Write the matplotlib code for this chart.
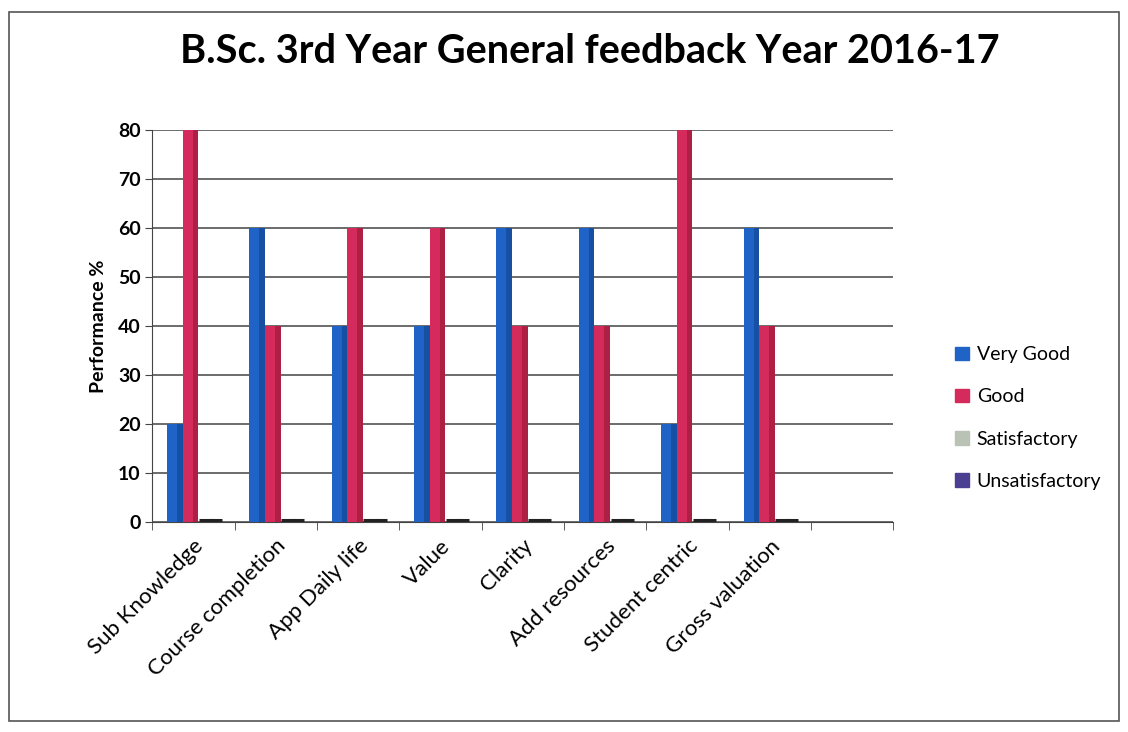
import matplotlib.pyplot as plt
import numpy as np
from matplotlib.patches import Rectangle, Patch

plt.rcParams['font.family'] = ['Lato', 'DejaVu Sans']

categories = ['Sub Knowledge', 'Course completion', 'App Daily life', 'Value',
              'Clarity', 'Add resources', 'Student centric', 'Gross valuation', '']
very_good = [20, 60, 40, 40, 60, 60, 20, 60, 0]
good = [80, 40, 60, 60, 40, 40, 80, 40, 0]
satisfactory = [0, 0, 0, 0, 0, 0, 0, 0, 0]
unsatisfactory = [0, 0, 0, 0, 0, 0, 0, 0, 0]
n_show = 8  # last slot is empty

fig = plt.figure(figsize=(11.28, 7.32), dpi=100)
ax = fig.add_axes([0.135, 0.287, 0.657, 0.535])

# outer frame of the chart
fig.patches.append(Rectangle((0.008, 0.015), 0.984, 0.968, transform=fig.transFigure,
                             fill=False, edgecolor='#555555', linewidth=1.2))

x = np.arange(len(categories))
w = 0.19
series = [
    (very_good, -0.225, '#1f63c6', '#123f86'),
    (good, -0.035, '#d42a5c', '#8e1630'),
]
for vals, off, col, dark in series:
    v = np.array(vals[:n_show])
    ax.bar(x[:n_show] + off, v, width=w, color=col, zorder=3)
    # darker right side for a 3D look
    ax.bar(x[:n_show] + off + w * 0.32, v, width=w * 0.36, color=dark, alpha=0.55, zorder=3)

# zero-height series show as flat dashes
ax.bar(x[:n_show] + 0.16, satisfactory[:n_show], width=w, bottom=0.4, color='#b9c2b4',
       edgecolor='#222222', linewidth=2.2, zorder=3)
ax.bar(x[:n_show] + 0.27, unsatisfactory[:n_show], width=w * 0.8, bottom=0.4, color='#4b3f92',
       edgecolor='#222222', linewidth=2.2, zorder=3)

ax.set_xlim(-0.5, len(categories) - 0.5)
ax.set_ylim(0, 80)
ax.set_yticks(range(0, 81, 10))
ax.yaxis.grid(True, color='#444444', linewidth=1.1, zorder=0)
ax.set_axisbelow(True)
for s in ['top', 'right']:
    ax.spines[s].set_visible(False)
ax.spines['left'].set_color('#444444')
ax.spines['bottom'].set_color('#444444')

ax.set_xticks(x)
ax.set_xticklabels(categories, rotation=45, ha='right', rotation_mode='anchor', fontsize=16)
ax.tick_params(axis='x', length=0, pad=10)
ax.set_xticks(np.arange(len(categories) + 1) - 0.5, minor=True)
ax.tick_params(axis='x', which='minor', length=6, direction='out', color='#444444')
ax.tick_params(axis='y', length=5, direction='out', color='#444444', labelsize=14)
for t in ax.get_yticklabels():
    t.set_fontweight('bold')
ax.set_ylabel('Performance %', fontsize=14, fontweight='bold', labelpad=8)

fig.suptitle('B.Sc. 3rd Year General feedback Year 2016-17', fontsize=28.5,
             fontweight='bold', x=0.523, y=0.955)

handles = [Patch(color='#1f63c6'), Patch(color='#d42a5c'),
           Patch(color='#b9c2b4'), Patch(color='#4b3f92')]
labels = ['Very Good', 'Good', 'Satisfactory', 'Unsatisfactory']
ax.legend(handles, labels, loc='center left', bbox_to_anchor=(1.06, 0.265),
          frameon=False, fontsize=14, handlelength=0.7, handleheight=0.7,
          handletextpad=0.4, labelspacing=1.3)

fig.savefig('out.png', dpi=100)
